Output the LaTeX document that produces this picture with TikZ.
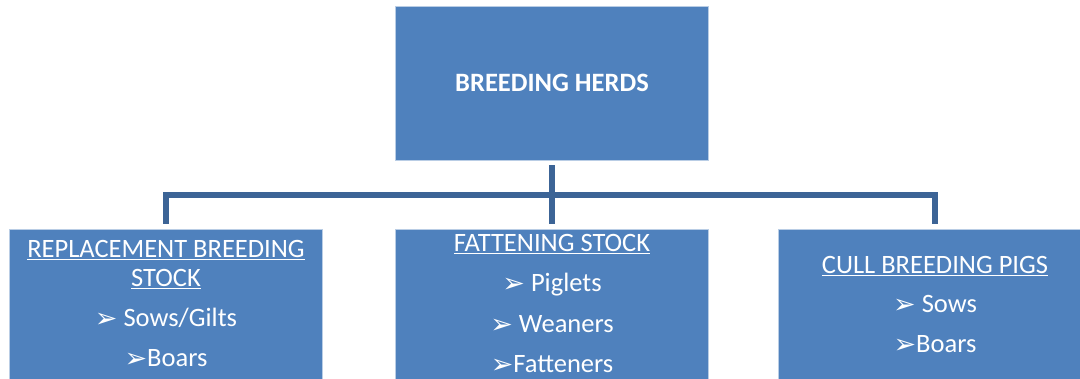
\documentclass[tikz,border=0pt]{standalone}
\usepackage{fontspec}
\setmainfont{Carlito}
\newfontfamily\dingfont{DejaVu Sans}
\definecolor{herdblue}{RGB}{79,129,189}
\definecolor{linkblue}{RGB}{60,100,150}
\newcommand{\bul}{\raisebox{-1pt}{\dingfont\fontsize{27}{27}\selectfont ➢}}
\tikzset{
  herdbox/.style={fill=herdblue, draw=herdblue!40!white, line width=0.8pt,
    minimum width=313pt, minimum height=154pt, inner sep=0pt},
  herdtext/.style={text=white, anchor=base, inner sep=0pt,
    font=\fontsize{26.5}{30}\selectfont},
  link/.style={draw=linkblue, line width=6pt, shorten <=5pt, shorten >=5pt}
}
\begin{document}
\begin{tikzpicture}[x=1pt,y=-1pt]
  \useasboundingbox (0,0) rectangle (1080,379);
  \node[herdbox, text=white, font=\bfseries\fontsize{26.5}{30}\selectfont] (herds) at (552,83) {BREEDING HERDS};
  \node[herdbox] (replace) at (166,306) {};
  \node[herdbox] (fatten) at (552,306) {};
  \node[herdbox] (cull) at (935,306) {};
  \foreach \b in {replace,fatten,cull} % bus line to every box
    \draw[link] (herds.south) -- ++(0,35) -| (\b.north);
  % left box
  \node[herdtext] (replace1) at (166,258) {\underline{REPLACEMENT BREEDING}};
  \node[herdtext] (replace2) at (166,287) {\underline{STOCK}};
  \node[herdtext] (replace3) at (166,327) {\bul\ Sows/Gilts};
  \node[herdtext] (replace4) at (166,367) {\bul Boars};
  % middle box
  \node[herdtext] (fatten1) at (552,252) {\underline{FATTENING STOCK}};
  \node[herdtext] (fatten2) at (552,292) {\bul\ Piglets};
  \node[herdtext] (fatten3) at (552,333) {\bul\ Weaners};
  \node[herdtext] (fatten4) at (552,373) {\bul Fatteners};
  % right box
  \node[herdtext] (cull1) at (935,274) {\underline{CULL BREEDING PIGS}};
  \node[herdtext] (cull2) at (935,313) {\bul\ Sows};
  \node[herdtext] (cull3) at (935,353) {\bul Boars};
\end{tikzpicture}
\end{document}
